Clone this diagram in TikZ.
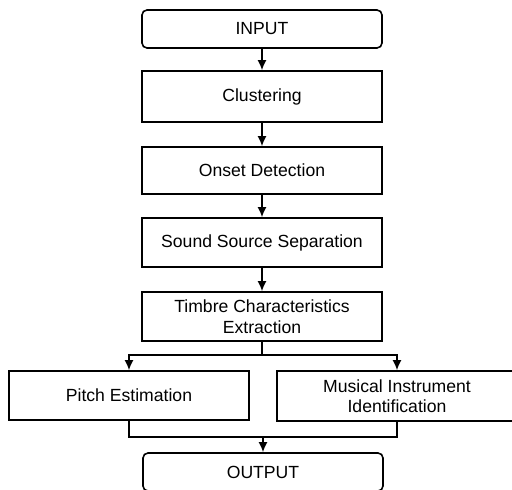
\documentclass[tikz,border=0pt]{standalone}
\usepackage{fontspec}
\setmainfont{Liberation Sans}
\usetikzlibrary{arrows.meta}
\begin{document}
\begin{tikzpicture}[x=1pt,y=-1pt,
  every node/.style={font=\fontsize{17.6}{20.5}\selectfont, align=center, inner sep=0pt},
  stage/.style={draw, line width=1.6pt, minimum width=240pt},
  terminal/.style={stage, rounded corners=5pt, minimum height=38pt},
  flow/.style={line width=1.6pt, -{Latex[length=10pt,width=9pt]}},
  link/.style={line width=1.6pt}]
\useasboundingbox (0,0) rectangle (512,490);
\clip (0,0) rectangle (512,490);

% main chain
\node[terminal] (in) at (262,29) {INPUT};
\node[stage, minimum height=51pt] (clu) at (262,96.5) {Clustering};
\node[stage, minimum height=47pt] (ons) at (262,170.5) {Onset Detection};
\node[stage, minimum height=49pt] (sep) at (262,242.5) {Sound Source Separation};
\node[stage, minimum height=49pt] (tim) at (262,316.5) {Timbre Characteristics\\Extraction};

% parallel branches
\node[stage, minimum height=49pt] (pit) at (129,395.5) {Pitch Estimation};
\node[stage, minimum height=50pt] (mus) at (397,396) {Musical Instrument\\Identification};

\node[terminal] (out) at (263,472) {OUTPUT};

\draw[flow] (in) -- (clu);
\draw[flow] (clu) -- (ons);
\draw[flow] (ons) -- (sep);
\draw[flow] (sep) -- (tim);

% split into the two branches
\coordinate (split) at (262,355);
\draw[link] (tim.south) -- (split);
\draw[flow] (split) -| (pit.north);
\draw[flow] (split) -| (mus.north);

% merge towards the output
\coordinate (merge) at (263,437);
\draw[link] (pit.south) |- (merge);
\draw[link] (mus.south) |- (merge);
\draw[flow] (merge) -- (out.north);
\end{tikzpicture}
\end{document}
